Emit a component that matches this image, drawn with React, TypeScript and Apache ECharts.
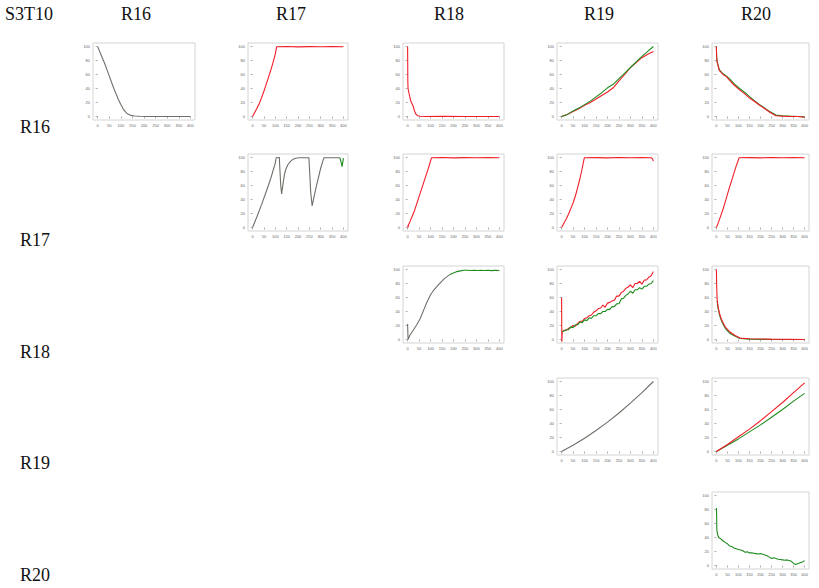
import React, { useEffect, useRef } from "react";
import * as echarts from "echarts";

const cornerTitle = "S3T10";
const colTitles = ["R16", "R17", "R18", "R19", "R20"];
const rowTitles = ["R16", "R17", "R18", "R19", "R20"];
const xTicks = [0, 50, 100, 150, 200, 250, 300, 350, 400];
const yTicks = [0, 20, 40, 60, 80, 100];

const RED = "#f01e28";
const GREEN = "#1e8c1e";
const GRAY = "#6e7068";

// R16 / R16
const p00X = [0, 10, 20, 30, 40, 50, 60, 70, 80, 90, 100, 110, 120, 130, 140, 150, 160, 180, 220, 300, 400];
const p00Gray = [100, 92, 84, 76, 67, 58, 49, 40, 32, 24, 17, 11, 6.5, 3.5, 2, 1.2, 0.8, 0.4, 0, 0, 0];
// R16 / R17
const p01X = [0, 10, 20, 30, 40, 50, 60, 70, 80, 90, 100, 106, 150, 200, 250, 300, 350, 400];
const p01Red = [0, 6, 12, 19, 27, 36, 46, 56, 66, 77, 89, 99.6, 99.9, 99.5, 99.8, 99.6, 99.9, 99.7];
// R16 / R18
const p02X = [0, 0.5, 1, 2, 5, 9, 15, 24, 30, 37, 45, 55, 80, 150, 250, 400];
const p02Red = [100, 80, 50, 40, 35, 29, 21, 15, 8, 3, 1, 0.3, 0, 0.2, 0, 0.1];
// R16 / R19
const p03X = [0, 25, 50, 75, 100, 125, 150, 175, 200, 225, 250, 275, 300, 325, 350, 375, 400];
const p03Green = [0, 3, 8, 12, 17, 22, 28, 34, 41, 46, 54, 62, 70, 78, 86, 93, 100];
const p03Red = [0, 3, 7, 11, 16, 20, 25, 30, 35, 41, 51, 60, 70, 77, 84, 89, 93];
// R16 / R20
const p04X = [0, 1, 3, 13, 30, 45, 59, 80, 105, 130, 152, 175, 196, 220, 242, 270, 300, 332, 370, 400];
const p04Green = [100, 84, 79, 67, 61, 58, 54, 47, 40, 34, 28, 22, 17, 12, 7, 2, 1, 0.5, 0, -0.5];
const p04Red = [100, 85, 78, 66, 60, 57, 52, 45, 38, 32, 26, 21, 16, 11, 6, 1, 0.5, 0, 0, -1];
// R17 / R17
const p11X = [0, 20, 40, 60, 80, 100, 104, 118, 120, 124, 128, 134, 140, 146, 156, 166, 176, 190, 204, 248, 252, 256, 262, 280, 300, 314, 384];
const p11Gray = [0, 16, 33, 51, 70, 92, 99.6, 99.8, 85, 60, 48, 62, 75, 83, 90, 94, 97, 99, 99.7, 99.6, 75, 50, 31, 58, 85, 99.7, 99.6];
const p11GreenX = [384, 390, 394, 400];
const p11Green = [99.6, 93, 87, 99];
// R17 / R18
const p12X = [0, 2, 4, 10, 20, 30, 40, 50, 60, 70, 80, 90, 100, 104, 150, 200, 250, 300, 350, 400];
const p12Red = [3, 0, 4, 8, 16, 24, 34, 44, 54, 64, 74, 84, 95, 99.6, 99.9, 99.5, 99.8, 99.6, 99.9, 99.7];
// R17 / R19
const p13X = [0, 10, 20, 30, 40, 50, 60, 70, 80, 90, 99, 150, 200, 250, 300, 350, 390, 396, 400];
const p13Red = [0, 6, 12, 19, 27, 35, 45, 57, 70, 85, 99.6, 99.8, 99.5, 99.9, 99.6, 99.8, 99.6, 98, 95];
// R17 / R20
const p14X = [0, 10, 20, 30, 47, 60, 70, 80, 90, 103, 150, 200, 250, 300, 350, 400];
const p14Red = [0, 8, 17, 26, 44, 58, 68, 78, 88, 99.6, 99.8, 99.5, 99.9, 99.6, 99.8, 99.6];
// R18 / R18
const p22X = [0, 2, 10, 26, 40, 55, 70, 85, 100, 115, 134, 160, 185];
const p22Gray = [22, 0, 6, 14, 21, 30, 42, 54, 64, 71, 78, 87, 93];
const p22GreenX = [185, 200, 215, 230, 245, 260, 275, 290, 305, 320, 335, 350, 365, 380, 400];
const p22Green = [93, 95, 97, 98, 99, 99, 98.5, 99, 98.6, 99, 98.5, 98.9, 98.4, 98.8, 98.6];
// R18 / R19
const p23RedX = [0, 1, 3, 10, 20, 30, 40, 50, 60, 70, 80, 90, 100, 110, 120, 130, 140, 150, 160, 170, 180, 190, 200, 210, 220, 230, 240, 250, 260, 270, 280, 290, 300, 310, 320, 330, 340, 350, 360, 370, 380, 390, 400];
const p23Red = [60, -3, 11, 13, 13, 16, 17, 20, 19, 23, 26, 26, 30, 31, 34, 35, 39, 41, 44, 45, 49, 46, 52, 53, 55, 56, 62, 62, 67, 69, 73, 75, 78, 74, 80, 80, 83, 79, 85, 85, 89, 91, 97];
const p23GreenX = [2, 10, 20, 30, 40, 50, 60, 70, 80, 90, 100, 110, 120, 130, 140, 150, 160, 170, 180, 190, 200, 210, 220, 230, 240, 250, 260, 270, 280, 290, 300, 310, 320, 330, 340, 350, 360, 370, 380, 390, 400];
const p23Green = [11, 12, 14, 14, 18, 17, 21, 21, 25, 24, 28, 27, 31, 30, 34, 34, 37, 37, 40, 40, 43, 43, 47, 47, 51, 51, 58, 59, 63, 65, 69, 66, 71, 71, 74, 72, 76, 76, 79, 80, 84];
// R18 / R20
const p24RedX = [0, 1, 3, 8, 15, 25, 40, 60, 83, 107, 150, 250, 400];
const p24Red = [100, 80, 58, 46, 36, 27, 18, 11, 6, 2, 1, 0.5, 0];
const p24GreenX = [3, 8, 15, 25, 40, 60, 83, 107, 150, 250, 400];
const p24Green = [55, 44, 34, 25, 16, 9, 5, 1.5, 0.5, 0, 0];
// R19 / R19
const p33X = [0, 50, 100, 150, 200, 250, 300, 350, 400];
const p33Gray = [0, 9, 19, 30, 42, 55, 69, 84, 100];
// R19 / R20
const p34X = [0, 50, 100, 150, 200, 250, 300, 350, 400];
const p34Red = [0, 10, 21, 32, 44, 57, 70, 84, 98];
const p34Green = [0, 9, 18, 28, 38, 49, 60, 72, 83];
// R20 / R20
const p44X = [0, 1, 2, 5, 10, 20, 30, 40, 50, 60, 70, 80, 90, 100, 110, 120, 130, 140, 150, 160, 170, 180, 190, 200, 210, 220, 230, 240, 250, 260, 270, 280, 290, 300, 310, 320, 330, 340, 350, 360, 370, 380, 390, 400];
const p44Green = [82, 70, 51, 45, 40, 38, 35, 33, 31, 28, 27, 25, 24, 23, 22, 21, 19, 19.5, 18, 18, 17.5, 17, 16.5, 17, 16, 15, 14, 12, 10, 11, 10, 9, 8.5, 8, 7.5, 8, 7, 6, 3, 1.5, 3, 4, 5, 7];

type Line = { x: number[]; y: number[]; color: string };
type Panel = { row: number; col: number; lines: Line[] };

const panels: Panel[] = [
  { row: 0, col: 0, lines: [{ x: p00X, y: p00Gray, color: GRAY }] },
  { row: 0, col: 1, lines: [{ x: p01X, y: p01Red, color: RED }] },
  { row: 0, col: 2, lines: [{ x: p02X, y: p02Red, color: RED }] },
  { row: 0, col: 3, lines: [{ x: p03X, y: p03Red, color: RED }, { x: p03X, y: p03Green, color: GREEN }] },
  { row: 0, col: 4, lines: [{ x: p04X, y: p04Green, color: GREEN }, { x: p04X, y: p04Red, color: RED }] },
  { row: 1, col: 1, lines: [{ x: p11X, y: p11Gray, color: GRAY }, { x: p11GreenX, y: p11Green, color: GREEN }] },
  { row: 1, col: 2, lines: [{ x: p12X, y: p12Red, color: RED }] },
  { row: 1, col: 3, lines: [{ x: p13X, y: p13Red, color: RED }] },
  { row: 1, col: 4, lines: [{ x: p14X, y: p14Red, color: RED }] },
  { row: 2, col: 2, lines: [{ x: p22X, y: p22Gray, color: GRAY }, { x: p22GreenX, y: p22Green, color: GREEN }] },
  { row: 2, col: 3, lines: [{ x: p23RedX, y: p23Red, color: RED }, { x: p23GreenX, y: p23Green, color: GREEN }] },
  { row: 2, col: 4, lines: [{ x: p24GreenX, y: p24Green, color: GREEN }, { x: p24RedX, y: p24Red, color: RED }] },
  { row: 3, col: 3, lines: [{ x: p33X, y: p33Gray, color: GRAY }] },
  { row: 3, col: 4, lines: [{ x: p34X, y: p34Green, color: GREEN }, { x: p34X, y: p34Red, color: RED }] },
  { row: 4, col: 4, lines: [{ x: p44X, y: p44Green, color: GREEN }] },
];

const colLeft = [93, 248, 403, 557, 712];
const colWidth = [102, 100, 101, 101, 97];
const rowTop = [43, 154, 266, 378, 492];
const rowHeight = 77;
const colTitleX = [29, 136, 291, 449, 599, 756];
const rowTitleY = [127, 240, 352, 463, 575];
const FONT = "Liberation Serif";

export default function App() {
  const ref = useRef<HTMLDivElement>(null);
  useEffect(() => {
    if (!ref.current) return;
    const chart = echarts.init(ref.current, undefined, { renderer: "svg" });
    const grid: any[] = [];
    const xAxis: any[] = [];
    const yAxis: any[] = [];
    const series: any[] = [];
    panels.forEach((p, i) => {
      grid.push({
        left: colLeft[p.col],
        top: rowTop[p.row],
        width: colWidth[p.col],
        height: rowHeight,
        show: true,
        borderColor: "#d4d4d4",
        borderWidth: 1,
        backgroundColor: "#ffffff",
      });
      xAxis.push({
        type: "value",
        gridIndex: i,
        min: -20,
        max: 420,
        axisLine: { show: false },
        splitLine: { show: false },
        axisTick: { show: true, length: 2, customValues: xTicks, lineStyle: { color: "#777", width: 0.6 } },
        axisLabel: { show: true, customValues: xTicks, fontSize: 4, color: "#666", margin: 3 },
      });
      yAxis.push({
        type: "value",
        gridIndex: i,
        min: -5,
        max: 105,
        axisLine: { show: false },
        splitLine: { show: false },
        axisTick: { show: true, length: 2, customValues: yTicks, lineStyle: { color: "#777", width: 0.6 } },
        axisLabel: { show: true, customValues: yTicks, fontSize: 4, color: "#666", margin: 3 },
      });
      p.lines.forEach((l) => {
        series.push({
          type: "line",
          xAxisIndex: i,
          yAxisIndex: i,
          data: l.x.map((v, k) => [v, l.y[k]]),
          showSymbol: false,
          symbol: "none",
          silent: true,
          lineStyle: { color: l.color, width: 1.1 },
        });
      });
    });
    const graphic: any[] = [];
    const heads = [cornerTitle, ...colTitles];
    heads.forEach((t, i) => {
      graphic.push({
        type: "text",
        x: colTitleX[i],
        y: 14,
        style: { text: t, fontSize: 18, fontFamily: FONT, fill: "#111", align: "center", verticalAlign: "middle" },
      });
    });
    rowTitles.forEach((t, i) => {
      graphic.push({
        type: "text",
        x: 35,
        y: rowTitleY[i],
        style: { text: t, fontSize: 18, fontFamily: FONT, fill: "#111", align: "center", verticalAlign: "middle" },
      });
    });
    chart.setOption({ animation: false, backgroundColor: "#ffffff", grid, xAxis, yAxis, series, graphic });
    return () => chart.dispose();
  }, []);
  return <div ref={ref} style={{ position: "absolute", left: 0, top: 0, width: 819, height: 588 }} />;
}
